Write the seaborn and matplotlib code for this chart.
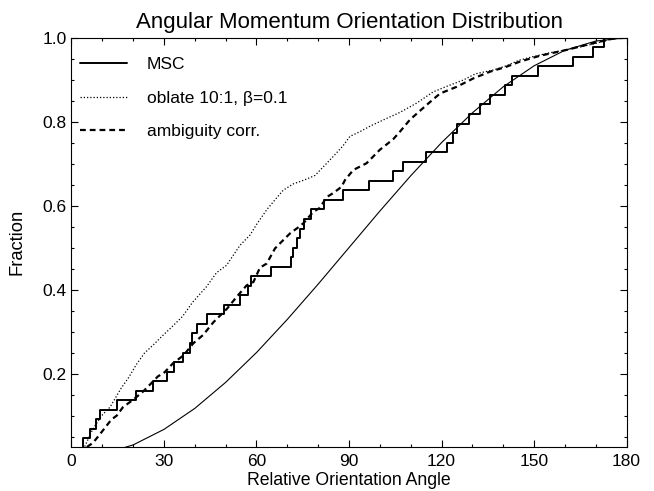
"""
Angular Momentum Orientation Distribution - cumulative fraction vs. relative orientation angle
"""

import numpy as np
import pandas as pd
import matplotlib
matplotlib.use('Agg')
import matplotlib.pyplot as plt
import matplotlib.ticker as ticker
from matplotlib.lines import Line2D
import seaborn as sns

# MSC sample: orientation angles (deg), one per object (44 objects)
msc_angles = [2.5, 3.8, 6.1, 8.1, 9.4, 14.6, 20.8, 26.3, 31.0, 33.2,
              36.3, 38.4, 39.0, 40.6, 43.8, 49.4, 54.7, 57.3, 58.1, 64.7,
              71.2, 71.9, 73.0, 74.1, 75.5, 77.7, 82.0, 88.1, 96.5, 104.3,
              107.6, 115.0, 121.9, 123.8, 125.1, 129.0, 132.5, 135.7, 140.6, 142.7,
              151.4, 162.5, 169.2, 172.8]

# isotropic reference curve (thin solid line)
iso_angle = [0, 10, 20, 30, 40, 50, 60, 70, 80, 90,
             100, 110, 120, 130, 140, 150, 160, 170, 180]
iso_frac = [0.0, 0.008, 0.030, 0.067, 0.117, 0.179, 0.250, 0.329, 0.413, 0.500,
            0.587, 0.671, 0.750, 0.821, 0.883, 0.933, 0.970, 0.992, 1.0]

# oblate 10:1, beta=0.1 (dotted)
obl_angle = [4.3, 6.8, 9.7, 12.5, 16.1, 18.5, 21.0, 23.7, 26.5, 29.8,
             32.4, 36.0, 39.3, 43.8, 47.0, 50.3, 54.6, 57.9, 60.0, 63.3,
             66.0, 68.7, 72.0, 75.5, 79.0, 82.0, 85.0, 88.0, 90.3, 93.5,
             97.0, 101.1, 106.5, 111.9, 117.3, 122.7, 127.0, 131.0, 136.8, 141.0,
             145.0, 149.7, 155.0, 160.6, 165.0, 169.2, 175.7, 180.0]
obl_frac = [0.026, 0.066, 0.099, 0.120, 0.165, 0.190, 0.221, 0.249, 0.268, 0.292,
            0.310, 0.336, 0.370, 0.407, 0.440, 0.458, 0.505, 0.530, 0.555, 0.590,
            0.614, 0.637, 0.652, 0.661, 0.672, 0.695, 0.718, 0.742, 0.765, 0.776,
            0.790, 0.804, 0.822, 0.844, 0.871, 0.887, 0.899, 0.914, 0.923, 0.933,
            0.946, 0.955, 0.964, 0.971, 0.978, 0.985, 0.998, 1.0]

# ambiguity corrected (dashed)
amb_angle = [5.0, 7.0, 9.5, 12.9, 14.7, 16.7, 19.9, 23.2, 25.9, 28.0,
             30.2, 33.0, 36.3, 39.5, 42.7, 46.0, 48.2, 50.5, 53.6, 56.8,
             59.0, 61.1, 63.3, 66.0, 67.6, 70.9, 73.5, 75.2, 78.4, 80.6,
             82.7, 84.9, 87.6, 88.7, 91.4, 95.7, 100.0, 104.3, 106.5, 109.8,
             115.2, 119.5, 124.9, 130.3, 135.7, 141.1, 145.4, 151.9, 160.6, 169.2,
             175.7, 180.0]
amb_frac = [0.025, 0.035, 0.058, 0.090, 0.100, 0.120, 0.137, 0.157, 0.177, 0.193,
            0.203, 0.225, 0.243, 0.272, 0.292, 0.322, 0.338, 0.355, 0.383, 0.410,
            0.418, 0.452, 0.462, 0.498, 0.510, 0.534, 0.548, 0.558, 0.585, 0.595,
            0.620, 0.630, 0.645, 0.661, 0.685, 0.701, 0.733, 0.758, 0.776, 0.805,
            0.840, 0.867, 0.883, 0.903, 0.919, 0.931, 0.943, 0.957, 0.971, 0.987,
            0.998, 1.0]

sns.set_theme(style='ticks')
plt.rcParams['font.family'] = ['Liberation Sans', 'DejaVu Sans']
plt.rcParams['axes.unicode_minus'] = False
plt.rcParams['text.color'] = 'black'
plt.rcParams['axes.labelcolor'] = 'black'
plt.rcParams['xtick.color'] = 'black'
plt.rcParams['ytick.color'] = 'black'

fig = plt.figure(figsize=(6.54, 4.91), dpi=100)
ax = fig.add_axes([0.1093, 0.0896, 0.8487, 0.8336])

df_iso = pd.DataFrame({'angle': iso_angle, 'frac': iso_frac})
df_obl = pd.DataFrame({'angle': obl_angle, 'frac': obl_frac})
df_amb = pd.DataFrame({'angle': amb_angle, 'frac': amb_frac})

OBL_LS = (0, (1, 1.6))
AMB_LS = (0, (2.6, 1.8))

sns.ecdfplot(x=msc_angles, ax=ax, color='black', linewidth=1.4)
sns.lineplot(data=df_iso, x='angle', y='frac', ax=ax, color='black',
             linewidth=0.8, sort=False, estimator=None)
sns.lineplot(data=df_obl, x='angle', y='frac', ax=ax, color='black',
             linewidth=0.9, linestyle=OBL_LS, sort=False, estimator=None)
sns.lineplot(data=df_amb, x='angle', y='frac', ax=ax, color='black',
             linewidth=1.6, linestyle=AMB_LS, sort=False, estimator=None)

ax.set_xlim(0, 180)
ax.set_ylim(0.025, 1.0)
ax.xaxis.set_major_locator(ticker.MultipleLocator(30))
ax.xaxis.set_minor_locator(ticker.MultipleLocator(10))
ax.yaxis.set_major_locator(ticker.FixedLocator([0.2, 0.4, 0.6, 0.8, 1.0]))
ax.yaxis.set_minor_locator(ticker.MultipleLocator(0.05))
ax.yaxis.set_major_formatter(ticker.FormatStrFormatter('%.1f'))
ax.tick_params(which='both', direction='in', top=True, right=True,
               width=0.8, labelsize=12.5)
ax.tick_params(which='major', length=5)
ax.tick_params(which='minor', length=2.5)
ax.tick_params(axis='x', which='major', pad=5)
ax.tick_params(axis='y', which='major', pad=3.5)
for sp in ax.spines.values():
    sp.set_linewidth(0.8)
    sp.set_color('black')

ax.set_title('Angular Momentum Orientation Distribution', fontsize=16, pad=7)
ax.set_xlabel('Relative Orientation Angle', fontsize=12.7)
ax.set_ylabel('Fraction', fontsize=13.2)
ax.xaxis.set_label_coords(0.5, -0.06)
ax.yaxis.set_label_coords(-0.082, 0.5)

handles = [
    Line2D([], [], color='black', linewidth=1.4),
    Line2D([], [], color='black', linewidth=0.9, linestyle=OBL_LS),
    Line2D([], [], color='black', linewidth=1.6, linestyle=AMB_LS),
]
labels = ['MSC', 'oblate 10:1, β=0.1', 'ambiguity corr.']
ax.legend(handles, labels, loc='upper left', bbox_to_anchor=(0.009, 0.961),
          frameon=False, fontsize=12.5, handlelength=2.7, handletextpad=1.15,
          labelspacing=1.05, borderaxespad=0, borderpad=0.2)

fig.savefig('out.png', dpi=100)
